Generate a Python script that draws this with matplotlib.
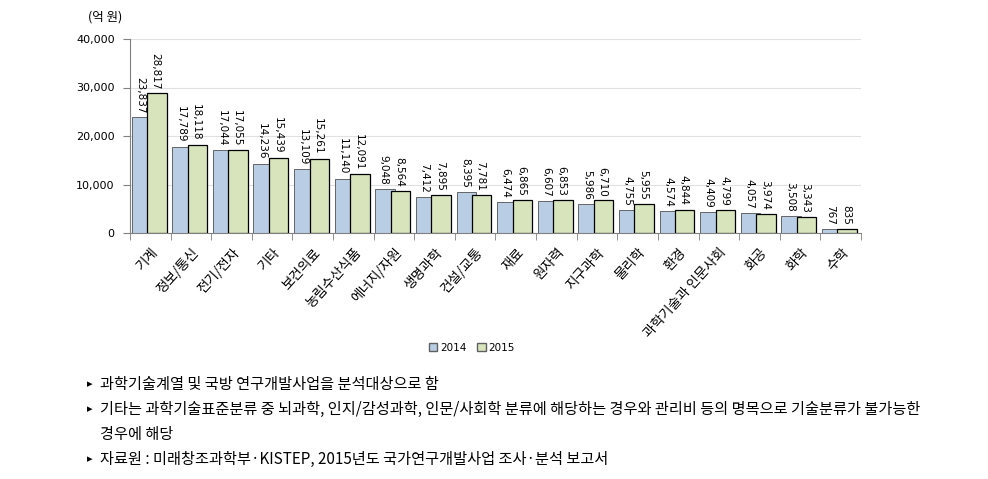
import numpy as np
import matplotlib
matplotlib.use('Agg')
import matplotlib.pyplot as plt
from matplotlib.patches import Patch

plt.rcParams['font.family'] = ['Noto Sans CJK KR', 'DejaVu Sans']

# 분야별 정부 연구개발 투자 (억 원)
categories = ['기계', '정보/통신', '전기/전자', '기타', '보건의료', '농림수산식품',
              '에너지/자원', '생명과학', '건설/교통', '재료', '원자력', '지구과학',
              '물리학', '환경', '과학기술과 인문사회', '화공', '화학', '수학']
values_2014 = [23837, 17789, 17044, 14236, 13109, 11140, 9048, 7412, 8395,
               6474, 6607, 5986, 4755, 4574, 4409, 4057, 3508, 767]
values_2015 = [28817, 18118, 17055, 15439, 15261, 12091, 8564, 7895, 7781,
               6865, 6853, 6710, 5955, 4844, 4799, 3974, 3343, 835]
yticks = [0, 10000, 20000, 30000, 40000]

notes = [
    '과학기술계열 및 국방 연구개발사업을 분석대상으로 함',
    '기타는 과학기술표준분류 중 뇌과학, 인지/감성과학, 인문/사회학 분류에 해당하는 경우와 관리비 등의 명목으로 기술분류가 불가능한',
    '경우에 해당',
    '자료원 : 미래창조과학부·KISTEP, 2015년도 국가연구개발사업 조사·분석 보고서',
]

c14 = '#b9cde5'
c15 = '#d7e4bc'

fig = plt.figure(figsize=(9.88, 4.79), dpi=100)
ax = fig.add_axes([130 / 988, 1 - 233 / 479, (861 - 130) / 988, (233 - 39) / 479])

x = np.arange(len(categories)) + 0.5
w = 0.48
ax.bar(x - 0.46, values_2014, width=w, align='edge', color=c14,
       edgecolor='#505050', linewidth=0.6, zorder=2)
ax.bar(x - 0.08, values_2015, width=w, align='edge', color=c15,
       edgecolor='black', linewidth=0.9, zorder=3)

for xi, v1, v2 in zip(x, values_2014, values_2015):
    ax.annotate(f'{v1:,}', (xi - 0.25, v1), xytext=(0, 3), textcoords='offset points',
                rotation=270, ha='center', va='bottom', fontsize=7.5,
                family='DejaVu Sans', zorder=4)
    ax.annotate(f'{v2:,}', (xi + 0.13, v2), xytext=(0, 3), textcoords='offset points',
                rotation=270, ha='center', va='bottom', fontsize=7.5,
                family='DejaVu Sans', zorder=4)

ax.set_xlim(0, len(categories))
ax.set_ylim(0, 40000)
ax.set_yticks(yticks)
ax.set_yticklabels([f'{t:,}' for t in yticks], fontsize=8, family='DejaVu Sans')
ax.yaxis.grid(True, color='#e0e0e0', linewidth=0.8, zorder=0)
ax.set_axisbelow(True)

ax.set_xticks(x)
ax.set_xticklabels(categories, rotation=48, ha='right', rotation_mode='anchor',
                   fontsize=9.8)
ax.tick_params(axis='x', length=0, pad=9)
ax.set_xticks(np.arange(len(categories) + 1), minor=True)
ax.tick_params(axis='x', which='minor', length=5, color='#808080', direction='out')
ax.tick_params(axis='y', length=5, color='#808080', pad=6)

for s in ['top', 'right']:
    ax.spines[s].set_visible(False)
for s in ['left', 'bottom']:
    ax.spines[s].set_color('#808080')
    ax.spines[s].set_linewidth(0.8)

fig.text(88 / 988, 1 - 17 / 479, '(억 원)', fontsize=9, va='center')

handles = [Patch(facecolor=c14, edgecolor='#606060', label='2014'),
           Patch(facecolor=c15, edgecolor='#606060', label='2015')]
fig.legend(handles=handles, loc='center', bbox_to_anchor=(472 / 988, 1 - 348 / 479),
           ncol=2, frameon=False, handlelength=0.8, handleheight=0.8,
           handletextpad=0.3, columnspacing=1.0,
           prop={'family': 'DejaVu Sans', 'size': 7.5})

ys = [384, 409, 434, 459]
for i, (t, yy) in enumerate(zip(notes, ys)):
    if i != 2:
        fig.text(87 / 988, 1 - yy / 479, '▸', fontsize=8, va='center',
                 family='DejaVu Sans')
    fig.text(100 / 988, 1 - yy / 479, t, fontsize=10.95, va='center')

fig.savefig('out.png', dpi=100)
